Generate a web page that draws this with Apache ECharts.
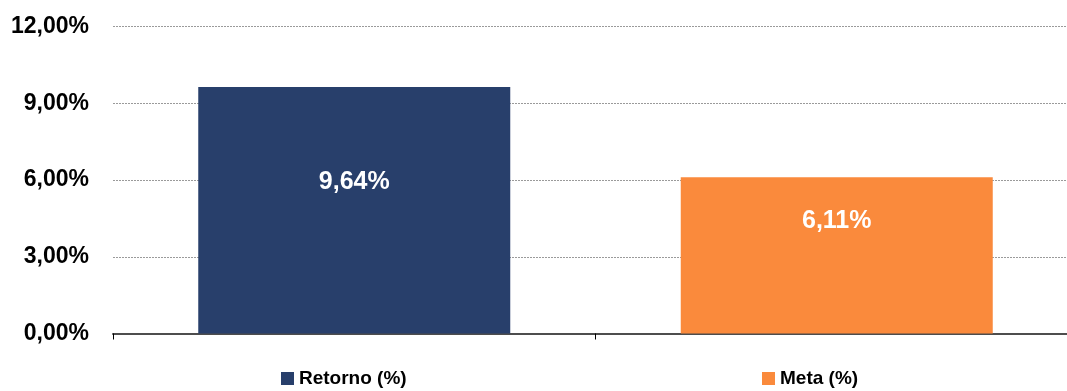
<!DOCTYPE html>
<html>
<head>
<meta charset="utf-8">
<script src="https://cdn.jsdelivr.net/npm/echarts@6/dist/echarts.min.js"></script>
<style>html,body{margin:0;padding:0;background:#fff;}#c{width:1067px;height:391px;}</style>
</head>
<body>
<div id="c"></div>
<script>
var categories = ['Retorno (%)', 'Meta (%)'];
var seriesNames = ['Retorno (%)', 'Meta (%)'];
var retorno = [9.64, '-'];
var meta = ['-', 6.11];
var yTicks = [0, 3, 6, 9, 12];

var colors = ['#283F6B', '#FA8A3C'];
var font = 'Liberation Sans, Arial, sans-serif';
function fmt(v){ return Number(v).toFixed(2).replace('.', ',') + '%'; }

var chart = echarts.init(document.getElementById('c'), null, {renderer: 'canvas'});
chart.setOption({
  animation: false,
  backgroundColor: '#fff',
  grid: {left: 113, top: 26.5, width: 965, height: 307, containLabel: false, outerBoundsMode: 'none'},
  legend: [
    {data: [seriesNames[0]], left: 276, top: 364, itemWidth: 13, itemHeight: 13, icon: 'rect',
     textStyle: {fontFamily: font, fontWeight: 'bold', fontSize: 19, color: '#000'}, itemGap: 5},
    {data: [seriesNames[1]], left: 757, top: 364, itemWidth: 13, itemHeight: 13, icon: 'rect',
     textStyle: {fontFamily: font, fontWeight: 'bold', fontSize: 19, color: '#000'}, itemGap: 5}
  ],
  xAxis: {
    type: 'category', data: categories,
    axisLine: {lineStyle: {color: '#4d4d4d', width: 2}},
    axisTick: {show: true, length: 6, lineStyle: {color: '#000', width: 1}},
    axisLabel: {show: false},
    splitLine: {show: false}
  },
  yAxis: {
    type: 'value', min: yTicks[0], max: yTicks[yTicks.length-1], interval: yTicks[1]-yTicks[0],
    axisLine: {show: false}, axisTick: {show: false},
    axisLabel: {formatter: fmt, fontFamily: font, fontWeight: 'bold', fontSize: 23, color: '#000', margin: 24},
    splitLine: {lineStyle: {color: '#9a9a9a', type: [2, 1], width: 1}}
  },
  series: [
    {name: seriesNames[0], type: 'bar', stack: 's', data: retorno, barWidth: 312,
     itemStyle: {color: colors[0]},
     label: {show: true, position: 'inside', offset: [0, -28], formatter: function(p){return fmt(p.value);},
       fontFamily: font, fontWeight: 'bold', fontSize: 25, color: '#fff'}},
    {name: seriesNames[1], type: 'bar', stack: 's', data: meta, barWidth: 312,
     itemStyle: {color: colors[1]},
     label: {show: true, position: 'inside', offset: [0, -34], formatter: function(p){return fmt(p.value);},
       fontFamily: font, fontWeight: 'bold', fontSize: 25, color: '#fff'}}
  ]
});
</script>
</body>
</html>
